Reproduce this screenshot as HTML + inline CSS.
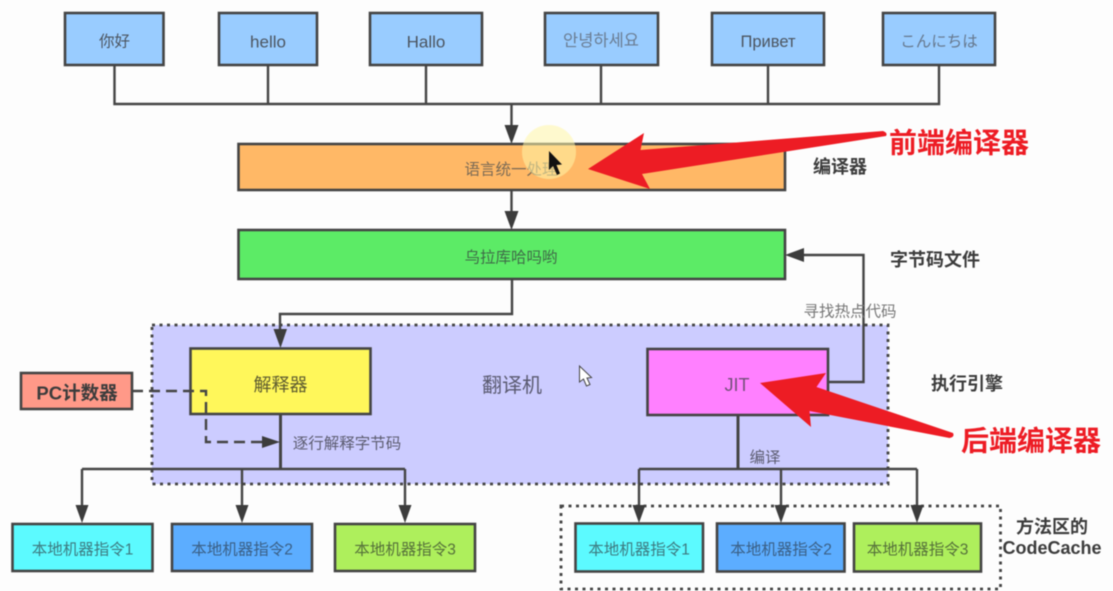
<!DOCTYPE html>
<html><head><meta charset="utf-8"><style>
html,body{margin:0;padding:0;background:#fdfdfd;width:1113px;height:591px;overflow:hidden}
svg{display:block;filter:blur(.6px)}
text{font-family:"Liberation Sans","Noto Sans CJK SC",sans-serif;text-anchor:middle;dominant-baseline:central}
.b{stroke:#444;stroke-width:2.6}
.l{stroke:#444;stroke-width:2.4;fill:none}
.t{font-size:15.5px;fill:#4c5560}
.h{font-size:18px;font-weight:bold;fill:#3c3c3c}
.r{font-size:28px;font-weight:bold;fill:#ed1c24}
.a{fill:#3c3c3c}
</style></head><body>
<svg width="1113" height="591" viewBox="0 0 1113 591" xmlns="http://www.w3.org/2000/svg">
<rect x="152" y="325" width="736" height="159" fill="#ccccff"/>
<rect x="152" y="325" width="736" height="159" fill="none" stroke="#444" stroke-width="2.800" stroke-dasharray="3 4.500"/>
<rect x="561" y="506" width="439.500" height="83" fill="none" stroke="#444" stroke-width="2.800" stroke-dasharray="3 4.500"/>

<path class="l" d="M114.500 65V104H939V65M268 65V104M426 65V104M601 65V104M768 65V104M511.500 104V130"/>
<path class="a" d="M504.500 125H518.500L511.500 144Z"/>
<path class="l" d="M511.500 190V215"/>
<path class="a" d="M504.500 211H518.500L511.500 230Z"/>
<path class="l" d="M512 279V314H280V332"/>
<path class="a" d="M273.500 329H287L280.500 348Z"/>
<path class="l" style="stroke-width:3" d="M280.500 414V469"/>
<path class="l" d="M82 469H405M82 469V510M242 469V510M405 469V510"/>
<path class="a" d="M75.500 505H88.500L82 523ZM235.500 505H248.500L242 523ZM398.500 505H411.500L405 523Z"/>
<path class="l" style="stroke-width:3" d="M738 415V469"/>
<path class="l" d="M639 469H917M639 469V510M781 469V510M917 469V510"/>
<path class="a" d="M632.500 505H645.500L639 523ZM774.500 505H787.500L781 523ZM910.500 505H923.500L917 523Z"/>
<path class="l" d="M828 382H863.500V255H800"/>
<path class="a" d="M785 255L804 248V262Z"/>

<g class="b" fill="#99ccff">
<rect x="65" y="13" width="98.500" height="52"/>
<rect x="219" y="13" width="98" height="52"/>
<rect x="370" y="13" width="112" height="52"/>
<rect x="545" y="13" width="113" height="52"/>
<rect x="712" y="13" width="112" height="52"/>
<rect x="883" y="13" width="112" height="52"/>
</g>
<rect class="b" x="238.500" y="144" width="546.500" height="46" fill="#ffb866"/>
<rect class="b" x="238.500" y="230" width="546.500" height="49" fill="#5ceb66"/>
<rect class="b" x="190.500" y="348.500" width="180" height="65.500" fill="#fff75a"/>
<rect class="b" x="647.500" y="349" width="180.500" height="66" fill="#ff80ff"/>
<rect class="b" x="21" y="373" width="111" height="36" fill="#ff9988"/>
<g class="b">
<rect x="12.500" y="524" width="140" height="47" fill="#5cfaff"/>
<rect x="172" y="524" width="140" height="47" fill="#5cadff"/>
<rect x="335" y="524" width="140" height="47" fill="#aeef5c"/>
<rect x="575.500" y="523.500" width="127.500" height="48" fill="#5cfaff"/>
<rect x="717" y="523.500" width="127.500" height="48" fill="#5cadff"/>
<rect x="854" y="523.500" width="127" height="48" fill="#aeef5c"/>
</g>
<path d="M132 391H206V442H268" fill="none" stroke="#444" stroke-width="2.400" stroke-dasharray="11 6"/>
<path class="a" d="M280 442L262 436V448Z"/>

<text class="t" x="114.500" y="42">你好</text>
<text class="t" x="268" y="42" style="font-size:17px">hello</text>
<text class="t" x="426" y="42" style="font-size:17px">Hallo</text>
<text class="t" x="601" y="41" style="font-size:16.500px;fill:#6a7c92;font-family:'Liberation Sans','Noto Sans CJK KR',sans-serif">안녕하세요</text>
<text class="t" x="768" y="42" style="font-size:16.500px">Привет</text>
<text class="t" x="939" y="42" style="fill:#66788e;font-family:'Liberation Sans','Noto Sans CJK JP',sans-serif">こんにちは</text>
<text class="t" x="511" y="170" style="fill:#7a6a55">语言统一处理</text>
<text class="t" x="511" y="258" style="fill:#3f6b48">乌拉库哈吗哟</text>
<text class="t" x="280.500" y="385" style="font-size:18px;fill:#5e5c30">解释器</text>
<text class="t" x="737" y="385" style="font-size:18px;fill:#74507a">JIT</text>
<text x="512" y="386" style="font-size:20px;fill:#5a5a70">翻译机</text>
<text class="h" x="77" y="393" style="font-size:18.500px">PC计数器</text>
<text class="t" x="347" y="444" style="fill:#5c5c70">逐行解释字节码</text>
<text class="t" x="765" y="458" style="fill:#5c5c70">编译</text>
<text class="t" x="850" y="312" style="fill:#777">寻找热点代码</text>
<text class="h" x="840" y="167">编译器</text>
<text class="h" x="935" y="260">字节码文件</text>
<text class="h" x="967" y="384">执行引擎</text>
<text class="h" x="1052" y="527">方法区的</text>
<text class="h" x="1052" y="548">CodeCache</text>
<g>
<text class="t" x="82.500" y="550" style="fill:#3d7a80">本地机器指令1</text>
<text class="t" x="242" y="550" style="fill:#3a5f85">本地机器指令2</text>
<text class="t" x="405" y="550" style="fill:#55703a">本地机器指令3</text>
<text class="t" x="639" y="550" style="fill:#3d7a80">本地机器指令1</text>
<text class="t" x="781" y="550" style="fill:#3a5f85">本地机器指令2</text>
<text class="t" x="917.500" y="550" style="fill:#55703a">本地机器指令3</text>
</g>

<circle cx="549" cy="152" r="27" fill="#fff6a8" opacity=".55"/>
<path d="M549 151V170L553 166L557 175L560 173.500L556.500 165L562 164.500Z" fill="#111"/>
<path d="M579.500 366V382L583.500 379L586.500 386L590 384.500L587 378L591.500 377.500Z" fill="#fff" stroke="#444" stroke-width="1"/>

<path fill="#ed1c24" d="M588 169L644 133L640.500 150L883 131Q888 133 886 136L642 174L650 189Z"/>
<path fill="#ed1c24" d="M760 383L826 373L816.500 387L953 433Q955 437 949.500 438L809.500 411L811 427Z"/>
<text class="r" x="959" y="143">前端编译器</text>
<text class="r" x="1031" y="441">后端编译器</text>
</svg>
</body></html>
